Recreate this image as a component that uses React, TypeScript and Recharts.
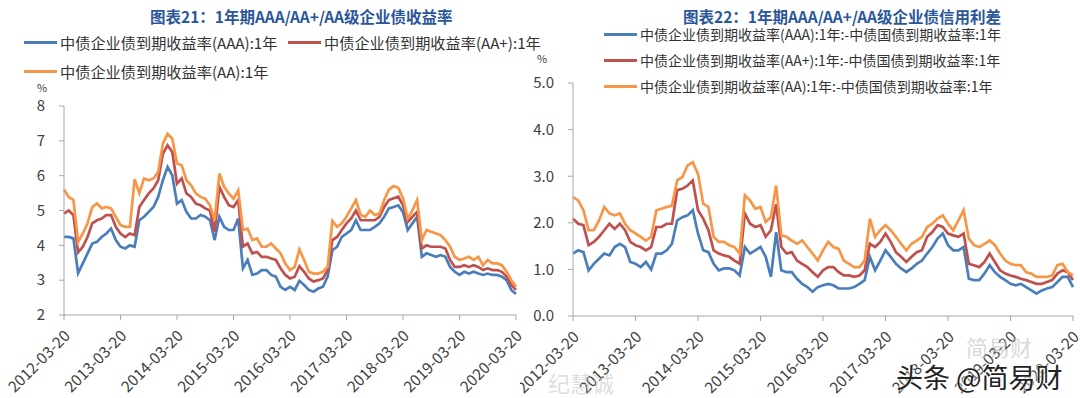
import { Line, LineChart, XAxis, YAxis } from "recharts"

const FONT = '"Noto Sans CJK SC", "Noto Sans", sans-serif'

// x axis: monthly points, index 0 = 2012-03, tick every 12 months
const tickLabels = [
  "2012-03-20", "2013-03-20", "2014-03-20", "2015-03-20", "2016-03-20",
  "2017-03-20", "2018-03-20", "2019-03-20", "2020-03-20",
]
const tickIdx = [0, 12, 24, 36, 48, 60, 72, 84, 96]

// 图表21 收益率 (%)
const yieldAAA = [
  4.24, 4.24, 4.2, 3.2, 3.48, 3.77, 4.05, 4.1, 4.24, 4.34, 4.48, 4.15, 3.96, 3.91, 4.0, 3.96,
  4.72, 4.82, 4.96, 5.1, 5.39, 5.87, 6.25, 6.01, 5.2, 5.3, 4.96, 4.77, 4.77, 4.87, 4.82, 4.72,
  4.15, 4.82, 4.53, 4.44, 4.44, 4.77, 3.34, 3.58, 3.15, 3.19, 3.29, 3.29, 3.15, 3.1, 2.81, 2.72,
  2.81, 2.72, 2.98, 2.86, 2.72, 2.67, 2.76, 2.81, 3.1, 3.86, 3.96, 4.24, 4.34, 4.44, 4.72, 4.44,
  4.44, 4.44, 4.53, 4.63, 4.82, 5.06, 5.1, 5.15, 4.95, 4.44, 4.63, 4.82, 3.67, 3.77, 3.72, 3.67,
  3.72, 3.67, 3.38, 3.24, 3.15, 3.24, 3.19, 3.24, 3.19, 3.15, 3.19, 3.15, 3.15, 3.1, 3.0, 2.72,
  2.6,
]
const yieldAAp = [
  4.91, 5.0, 4.87, 3.8, 3.96, 4.24, 4.63, 4.72, 4.77, 4.87, 4.87, 4.53, 4.34, 4.24, 4.34, 4.29,
  5.1, 5.3, 5.49, 5.63, 5.87, 6.63, 6.87, 6.68, 5.77, 5.92, 5.49, 5.39, 5.2, 5.15, 5.06, 5.0,
  4.39, 5.68, 5.39, 5.15, 5.1, 5.3, 3.96, 4.05, 3.77, 3.81, 3.67, 3.67, 3.62, 3.58, 3.34, 3.15,
  3.05, 3.1, 3.4, 3.24, 3.05, 2.96, 3.0, 3.05, 3.29, 4.15, 4.24, 4.44, 4.63, 4.77, 5.0, 4.72,
  4.72, 4.72, 4.72, 4.82, 5.1, 5.3, 5.35, 5.4, 5.15, 4.67, 4.82, 4.96, 3.91, 4.0, 3.96, 3.96,
  3.96, 3.91, 3.58, 3.38, 3.38, 3.43, 3.38, 3.43, 3.38, 3.29, 3.34, 3.29, 3.29, 3.24, 3.1, 2.86,
  2.72,
]
const yieldAA = [
  5.6, 5.39, 5.3, 4.1, 4.34, 4.63, 5.1, 5.2, 5.06, 5.1, 5.06, 4.82, 4.58, 4.53, 4.53, 5.9,
  5.5, 5.92, 5.87, 5.92, 6.1, 6.92, 7.2, 7.06, 6.35, 6.3, 5.87, 5.72, 5.49, 5.39, 5.34, 5.15,
  4.72, 6.06, 5.68, 5.49, 5.34, 5.58, 4.44, 4.48, 4.15, 4.2, 3.96, 3.96, 4.05, 3.91, 3.77, 3.48,
  3.29, 3.38, 3.88, 3.58, 3.24, 3.19, 3.19, 3.24, 3.38, 4.7, 4.53, 4.63, 4.82, 5.06, 5.3, 4.87,
  4.82, 5.0, 4.87, 4.91, 5.3, 5.6, 5.7, 5.65, 5.35, 4.77, 5.0, 5.3, 4.15, 4.44, 4.39, 4.34,
  4.29, 4.15, 3.96, 3.67, 3.58, 3.62, 3.67, 3.58, 3.67, 3.43, 3.58, 3.48, 3.48, 3.43, 3.24, 3.0,
  2.81,
]

// 图表22 信用利差 (%)
const spreadAAA = [
  1.34, 1.41, 1.37, 0.98, 1.12, 1.23, 1.34, 1.3, 1.48, 1.55, 1.48, 1.16, 1.12, 1.05, 1.16, 1.0,
  1.34, 1.34, 1.41, 1.55, 2.05, 2.12, 2.16, 2.27, 1.77, 1.41, 1.37, 1.12, 0.98, 1.02, 1.02, 0.98,
  0.87, 1.48, 1.34, 1.41, 1.48, 1.27, 0.84, 1.8, 0.98, 0.94, 0.94, 0.8, 0.69, 0.62, 0.52, 0.62,
  0.66, 0.69, 0.66, 0.59, 0.59, 0.59, 0.62, 0.69, 0.77, 1.27, 0.98, 1.19, 1.41, 1.27, 1.12, 1.02,
  0.94, 1.02, 1.12, 1.19, 1.34, 1.48, 1.66, 1.77, 1.52, 1.41, 1.41, 1.48, 0.8, 0.77, 0.77, 0.91,
  1.09, 0.94, 0.84, 0.77, 0.69, 0.66, 0.69, 0.62, 0.55, 0.48, 0.55, 0.59, 0.62, 0.73, 0.84, 0.84,
  0.62,
]
const spreadAAp = [
  2.09, 1.98, 1.95, 1.52, 1.59, 1.7, 1.84, 1.98, 1.87, 1.98, 1.84, 1.59, 1.52, 1.48, 1.41, 1.48,
  1.91, 1.91, 1.98, 1.98, 2.7, 2.73, 2.8, 2.91, 2.27, 2.09, 1.84, 1.41, 1.34, 1.3, 1.27, 1.19,
  1.12, 2.2, 1.98, 1.91, 1.95, 1.7, 1.84, 2.4, 1.48, 1.34, 1.37, 1.19, 1.12, 1.05, 0.94, 0.84,
  0.98, 1.05, 1.05, 0.94, 0.87, 0.87, 0.84, 0.87, 0.98, 1.55, 1.48, 1.59, 1.77, 1.59, 1.37, 1.27,
  1.16, 1.27, 1.37, 1.41, 1.7, 1.8, 1.95, 1.91, 1.77, 1.73, 1.7, 1.77, 1.12, 1.09, 1.05, 1.16,
  1.34, 1.16, 0.98, 0.91, 0.87, 0.84, 0.8, 0.77, 0.73, 0.69, 0.69, 0.73, 0.77, 0.91, 0.98, 0.94,
  0.77,
]
const spreadAA = [
  2.55, 2.48, 2.27, 1.84, 1.84, 2.05, 2.34, 2.2, 2.16, 2.2, 1.98, 1.84, 1.77, 1.7, 1.62, 1.7,
  2.27, 2.3, 2.34, 2.37, 2.91, 2.98, 3.23, 3.3, 3.05, 2.41, 2.34, 1.7, 1.59, 1.59, 1.52, 1.48,
  1.34, 2.59, 2.48, 2.3, 2.34, 2.02, 2.12, 2.8, 1.73, 1.7, 1.62, 1.55, 1.62, 1.48, 1.34, 1.19,
  1.41, 1.59, 1.48, 1.44, 1.19, 1.12, 1.05, 1.05, 1.19, 2.09, 1.7, 1.84, 1.95, 1.84, 1.7, 1.55,
  1.41, 1.55, 1.62, 1.7, 1.91, 1.98, 2.09, 2.16, 1.98, 1.84, 2.05, 2.27, 1.66, 1.52, 1.48, 1.55,
  1.62, 1.52, 1.34, 1.19, 1.12, 1.09, 1.09, 0.94, 0.91, 0.84, 0.84, 0.84, 0.87, 1.09, 1.12, 0.94,
  0.87,
]

const BLUE = "#4a7ebb"
const RED = "#c0504d"
const ORANGE = "#f79646"

const leftNames = [
  "中债企业债到期收益率(AAA):1年",
  "中债企业债到期收益率(AA+):1年",
  "中债企业债到期收益率(AA):1年",
]
const rightNames = [
  "中债企业债到期收益率(AAA):1年:-中债国债到期收益率:1年",
  "中债企业债到期收益率(AA+):1年:-中债国债到期收益率:1年",
  "中债企业债到期收益率(AA):1年:-中债国债到期收益率:1年",
]

const leftData = yieldAAA.map((v, i) => ({ i, a: v, b: yieldAAp[i], c: yieldAA[i] }))
const rightData = spreadAAA.map((v, i) => ({ i, a: v, b: spreadAAp[i], c: spreadAA[i] }))

function DateTick(props: any) {
  const { x, y, payload } = props
  const label = tickLabels[tickIdx.indexOf(payload.value)]
  return (
    <g transform={`translate(${x + 7},${y + 15}) rotate(-45)`}>
      <text x={0} y={0} textAnchor="end" fontSize={15.5} fill="#404040" fontFamily={FONT}>
        {label}
      </text>
    </g>
  )
}

function Panel(props: any) {
  const { data, width, margin, domain, ticks, fmt } = props
  return (
    <LineChart width={width} height={398} data={data} margin={margin}>
      <XAxis
        dataKey="i"
        type="number"
        domain={[0, 96]}
        ticks={tickIdx}
        interval={0}
        height={80}
        stroke="#a6a6a6"
        tickSize={5}
        tick={<DateTick />}
      />
      <YAxis
        type="number"
        domain={domain}
        ticks={ticks}
        width={30}
        stroke="#a6a6a6"
        tickSize={5}
        tickMargin={14}
        tickFormatter={fmt}
        tick={{ fill: "#404040", fontSize: 15, fontFamily: FONT }}
      />
      <Line dataKey="a" stroke={BLUE} strokeWidth={2.7} dot={false} isAnimationActive={false} />
      <Line dataKey="b" stroke={RED} strokeWidth={2.7} dot={false} isAnimationActive={false} />
      <Line dataKey="c" stroke={ORANGE} strokeWidth={2.7} dot={false} isAnimationActive={false} />
    </LineChart>
  )
}

function LegendItem({ x, y, color, name, size }: any) {
  return (
    <div style={{ position: "absolute", left: x, top: y - 11, height: 22, display: "flex", alignItems: "center", whiteSpace: "nowrap" }}>
      <div style={{ width: 33, height: 3, background: color, marginRight: 3 }} />
      <span style={{ fontSize: size, color: "#333", fontFamily: FONT }}>{name}</span>
    </div>
  )
}

const titleStyle: any = {
  position: "absolute",
  top: 6,
  fontSize: 15.5,
  lineHeight: "20px",
  fontWeight: 700,
  color: "#2b579a",
  fontFamily: FONT,
  whiteSpace: "nowrap",
}

export default function App() {
  return (
    <div style={{ position: "absolute", left: 0, top: 0, width: 1080, height: 398, background: "#fff", overflow: "hidden", fontFamily: FONT }}>
      <div style={{ position: "absolute", left: 0, top: 0 }}>
        <Panel data={leftData} width={540} margin={{ top: 106, right: 24, bottom: 3, left: 34 }} domain={[2, 8]} ticks={[2, 3, 4, 5, 6, 7, 8]} fmt={(v: number) => `${v}`} />
      </div>
      <div style={{ position: "absolute", left: 520, top: 0 }}>
        <Panel data={rightData} width={560} margin={{ top: 83, right: 7, bottom: 2, left: 23 }} domain={[0, 5]} ticks={[0, 1, 2, 3, 4, 5]} fmt={(v: number) => v.toFixed(1)} />
      </div>

      <div style={{ ...titleStyle, left: 150 }}>图表21：1年期AAA/AA+/AA级企业债收益率</div>
      <div style={{ ...titleStyle, left: 683 }}>图表22：1年期AAA/AA+/AA级企业债信用利差</div>

      <LegendItem x={24} y={42} color={BLUE} name={leftNames[0]} size={15.2} />
      <LegendItem x={288} y={42} color={RED} name={leftNames[1]} size={15.2} />
      <LegendItem x={24} y={71} color={ORANGE} name={leftNames[2]} size={15.2} />

      <LegendItem x={604} y={34} color={BLUE} name={rightNames[0]} size={14} />
      <LegendItem x={604} y={60} color={RED} name={rightNames[1]} size={14} />
      <LegendItem x={604} y={86} color={ORANGE} name={rightNames[2]} size={14} />

      <div style={{ position: "absolute", left: 37, top: 79, fontSize: 11, color: "#404040" }}>%</div>
      <div style={{ position: "absolute", left: 537, top: 50, fontSize: 11, color: "#404040" }}>%</div>

      <div style={{ position: "absolute", left: 548, top: 366, fontSize: 22, color: "rgba(200,200,200,0.6)" }}>纪慧诚</div>
      <div style={{ position: "absolute", left: 966, top: 330, fontSize: 22, color: "rgba(190,190,190,0.6)" }}>简易财</div>
      <div style={{ position: "absolute", left: 896, top: 357, fontSize: 27, color: "#222", textShadow: "0 0 3px #fff, 0 0 3px #fff" }}>头条 @简易财</div>
    </div>
  )
}
